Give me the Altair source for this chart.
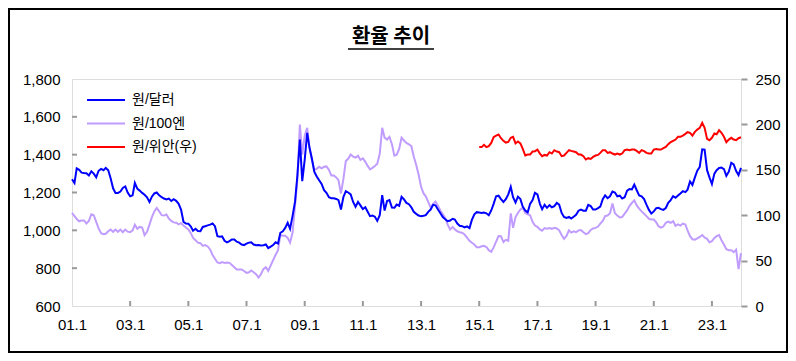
import altair as alt
import pandas as pd

title_text = "환율 추이"
series_names = ["원/달러", "원/100엔", "원/위안(우)"]
series_colors = ["#0000FF", "#C09CFF", "#FF0000"]
start_month = "2001-01-01"
cny_start_month = "2015-01-01"

# 원/달러 (monthly, 2001.1 - 2024.1)
usd = [
    1270, 1250, 1328, 1320, 1305, 1303, 1302, 1290, 1312, 1300, 1280, 1315,
    1325, 1318, 1330, 1318, 1275, 1222, 1198, 1198, 1205, 1224, 1232, 1200,
    1180, 1185, 1250, 1220, 1210, 1198, 1188, 1175, 1150, 1178, 1195, 1200,
    1185, 1175, 1168, 1163, 1168, 1155, 1165, 1156, 1140, 1110, 1045, 1036,
    1035, 1020, 998, 1008, 996, 995, 1018, 1022, 1026, 1030, 1036, 1022,
    969, 966, 968, 945, 936, 943, 952, 952, 940, 935, 925, 922,
    930, 935, 937, 925, 921, 922, 920, 921, 925, 906, 914, 922,
    937, 930, 987, 995, 1013, 1040, 1008, 1075, 1150, 1290, 1480, 1260,
    1374, 1515, 1440, 1380, 1310, 1285, 1265, 1245, 1212, 1198, 1175, 1170,
    1170, 1166, 1160, 1110, 1175, 1207, 1200, 1190, 1150, 1125, 1150, 1132,
    1112, 1122, 1100, 1075, 1078, 1072, 1050, 1080, 1186, 1105, 1155, 1160,
    1120, 1119, 1136, 1130, 1177, 1163, 1145, 1138, 1122, 1098, 1087, 1078,
    1074, 1077, 1080, 1098, 1110, 1135, 1132, 1110, 1090, 1070, 1058, 1048,
    1052, 1061, 1057, 1036, 1024, 1022, 1015, 1021, 1012, 1055, 1085, 1096,
    1094, 1092, 1094, 1090, 1080, 1105, 1140, 1180, 1183, 1165, 1150, 1165,
    1190, 1230, 1175, 1147, 1178, 1165, 1125, 1105, 1095, 1140, 1160, 1198,
    1190, 1140, 1112, 1135, 1119, 1133, 1122, 1128, 1145, 1136, 1092, 1071,
    1066, 1071, 1062, 1072, 1082, 1104, 1110, 1104, 1104, 1135, 1128, 1110,
    1110, 1117, 1125, 1165, 1185, 1170, 1180, 1205, 1200, 1180, 1183, 1168,
    1175, 1210, 1218, 1216, 1242, 1212, 1185, 1180, 1165, 1136, 1108, 1089,
    1100, 1117, 1119, 1112, 1108, 1118, 1145, 1160, 1181, 1172, 1184, 1195,
    1207, 1202, 1215, 1258, 1240, 1280, 1315, 1335, 1428, 1427, 1318, 1280,
    1245, 1300, 1318, 1330, 1332, 1324, 1288, 1310, 1357, 1348, 1313, 1292,
    1330,
]

# 원/100엔 (monthly, 2001.1 - 2024.1)
jpy = [
    1092, 1075, 1060, 1048, 1052, 1052, 1036, 1050, 1085, 1080, 1045, 1010,
    985, 980, 982, 995, 1004, 992, 1004, 992, 1004, 990, 1004, 993,
    990, 1000, 1030, 1008, 1018, 1015, 975, 992, 1030, 1070, 1100, 1118,
    1100, 1080, 1078, 1084, 1062, 1050, 1042, 1040, 1032, 1038, 1025, 1015,
    1005, 985, 960, 948, 935, 932, 918, 922, 915, 899, 870, 850,
    830, 826, 832, 828, 830, 828, 817, 805, 793, 793, 793, 785,
    775, 778, 788, 778, 768, 750, 768, 795, 805, 786, 815, 842,
    870, 895, 975, 972, 972, 960, 935, 987, 1128, 1269, 1559, 1400,
    1500, 1542, 1436, 1370, 1320, 1325, 1336, 1328, 1336, 1338, 1320, 1290,
    1290, 1280, 1265, 1195, 1269, 1366, 1378, 1401, 1390, 1385, 1394, 1372,
    1380, 1362, 1342, 1322, 1330, 1340, 1352, 1405, 1542, 1490, 1480, 1494,
    1455, 1395, 1400, 1430, 1490, 1475, 1462, 1455, 1445, 1390, 1345, 1295,
    1230, 1195, 1180, 1150, 1120, 1140, 1152, 1130, 1105, 1085, 1065, 1030,
    1004, 1018, 1005, 995, 990, 987, 978, 962, 945, 934, 925, 910,
    910, 916, 918, 912, 895, 886, 910, 940, 970, 969, 938, 950,
    945, 1090, 1013, 1070, 1092, 1110, 1119, 1092, 1085, 1080, 1045, 1025,
    1018, 1005, 998, 1012, 1009, 1012, 1008, 1013, 1010, 1000, 975, 955,
    970, 1000, 988, 995, 990, 1000, 1002, 990, 980, 985, 1002, 1010,
    1013, 1020, 1035, 1050, 1075, 1078, 1090, 1142, 1090, 1078, 1068, 1070,
    1088, 1105, 1128, 1145, 1159, 1132, 1115, 1100, 1088, 1075, 1061, 1057,
    1057, 1042, 1022, 1014, 1020, 1040, 1046, 1040, 1048, 1024, 1031, 1025,
    1036, 1031, 1000, 969, 953, 951, 958, 965, 975, 962, 955, 937,
    943, 960, 969, 975, 948, 925, 900, 895, 895, 885, 898, 795,
    880,
]

# 원/위안 (right axis, monthly, 2015.1 - 2024.1)
cny = [
    175.0, 175.0, 177.5, 175.0, 176.0, 179.6, 186.0, 187.7, 188.8, 184.8, 181.9, 180.0,
    180.7, 185.2, 186.3, 179.0, 181.1, 179.0, 173.0, 165.7, 166.8, 166.8, 170.1, 170.5,
    172.3, 167.9, 165.0, 166.4, 165.7, 169.4, 167.9, 171.6, 170.1, 169.4, 165.0, 165.7,
    168.6, 171.6, 170.8, 170.1, 169.4, 166.8, 166.8, 165.0, 161.3, 162.8, 162.0, 164.2,
    165.7, 166.4, 168.6, 171.6, 171.6, 168.6, 169.4, 167.9, 166.8, 167.9, 166.8, 167.9,
    171.6, 172.3, 171.6, 172.3, 172.3, 170.8, 168.6, 171.6, 170.5, 168.6, 167.9, 167.9,
    172.3, 173.0, 172.3, 172.3, 173.8, 175.2, 178.2, 180.4, 181.9, 183.3, 186.3, 186.3,
    187.7, 189.6, 191.4, 190.7, 187.7, 191.8, 194.3, 196.2, 201.7, 196.2, 184.0, 182.6,
    185.2, 190.0, 189.2, 193.6, 190.7, 186.3, 180.4, 183.3, 185.2, 183.3, 182.6, 184.8,
    185.9,
]

left_ticks = [600, 800, 1000, 1200, 1400, 1600, 1800]
right_ticks = [0, 50, 100, 150, 200, 250]
x_tick_years = [2001, 2003, 2005, 2007, 2009, 2011, 2013, 2015, 2017, 2019, 2021, 2023]
x_end_year = 2024

W, H = 669, 227
FONT = "Liberation Sans, Arial, Noto Sans CJK KR"
FRAME = "#999999"

months = pd.date_range(start_month, periods=len(usd), freq="MS")
cny_months = pd.date_range(cny_start_month, periods=len(cny), freq="MS")
usd_df = pd.DataFrame({"date": months, "value": usd, "series": series_names[0]})
jpy_df = pd.DataFrame({"date": months, "value": jpy, "series": series_names[1]})
cny_df = pd.DataFrame({"date": cny_months, "value": cny, "series": series_names[2]})

color_scale = alt.Scale(domain=series_names, range=series_colors)
color = alt.Color("series:N", scale=color_scale, legend=None)
x_scale = alt.Scale(domain=[alt.DateTime(year=x_tick_years[0], month=1, date=1),
                            alt.DateTime(year=x_end_year, month=1, date=1)])
left_scale = alt.Scale(domain=[left_ticks[0], left_ticks[-1]], nice=False, zero=False)
right_scale = alt.Scale(domain=[right_ticks[0], right_ticks[-1]], nice=False)

x_enc = alt.X(
    "date:T", scale=x_scale,
    axis=alt.Axis(values=[alt.DateTime(year=y, month=1, date=1) for y in x_tick_years],
                  format="%y.%-m", title=None, grid=False, ticks=False, domain=False,
                  labelPadding=11, labelFlush=False, labelFontSize=15, labelColor="#000",
                  labelFont=FONT, labelOverlap=False),
)
y_left_enc = alt.Y(
    "value:Q", scale=left_scale,
    axis=alt.Axis(values=left_ticks, format=",.0f", title=None, grid=False, ticks=False,
                  domain=False, labelPadding=12, labelFontSize=15, labelColor="#000",
                  labelFont=FONT),
)

jpy_line = alt.Chart(jpy_df).mark_line(strokeWidth=2).encode(x=x_enc, y=y_left_enc, color=color)
usd_line = alt.Chart(usd_df).mark_line(strokeWidth=2).encode(x=x_enc, y=y_left_enc, color=color)

# inward tick marks on the left axis
ytick_df = pd.DataFrame({"value": left_ticks[1:-1]})
left_ticks_layer = alt.Chart(ytick_df).mark_rule(color=FRAME, strokeWidth=2).encode(
    y=y_left_enc, x=alt.value(0), x2=alt.value(5),
)

# inward tick marks on the bottom axis
xtick_df = pd.DataFrame({"date": pd.to_datetime([f"{y}-01-01" for y in x_tick_years[1:]])})
x_ticks_layer = alt.Chart(xtick_df).mark_rule(color=FRAME, strokeWidth=2).encode(
    x=x_enc, y=alt.value(H), y2=alt.value(H - 5),
)

left_group = alt.layer(jpy_line, usd_line, left_ticks_layer, x_ticks_layer)

cny_line = alt.Chart(cny_df).mark_line(strokeWidth=2).encode(
    x=x_enc,
    y=alt.Y("value:Q", scale=right_scale,
            axis=alt.Axis(orient="right", values=right_ticks, format=".0f", title=None,
                          grid=False, ticks=True, tickSize=6, tickColor=FRAME, tickWidth=2,
                          domain=False, labelPadding=8, labelFontSize=15, labelColor="#000",
                          labelFont=FONT)),
    color=color,
)

legend_df = pd.DataFrame({"series": series_names})
legend_base = alt.Chart(legend_df).transform_window(
    rank="row_number()"
).transform_calculate(ly="21 + (datum.rank - 1) * 23.5")
legend_lines = legend_base.mark_rule(strokeWidth=2).encode(
    x=alt.value(15), x2=alt.value(53), y=alt.Y("ly:Q", scale=None), color=color,
)
legend_text = legend_base.mark_text(align="left", baseline="middle", fontSize=14,
                                    font=FONT, color="#000").encode(
    x=alt.value(60), y=alt.Y("ly:Q", scale=None), text="series:N",
)

title_df = pd.DataFrame({"t": [title_text]})
title_layer = alt.Chart(title_df).mark_text(fontSize=20, fontWeight="bold",
                                            font="Noto Sans CJK KR", color="#000",
                                            baseline="middle").encode(
    x=alt.value(319), y=alt.value(-42), text="t:N",
)
underline = alt.Chart(title_df).mark_rule(color="#000", strokeWidth=1.5).encode(
    x=alt.value(276), x2=alt.value(362), y=alt.value(-30),
)
border = alt.Chart(title_df).mark_rect(fill=None, stroke="#000", strokeWidth=2).encode(
    x=alt.value(-63), x2=alt.value(W + 47 - 1), y=alt.value(-70), y2=alt.value(H + 47 - 1),
)

chart = alt.layer(
    left_group, cny_line, legend_lines, legend_text, title_layer, underline, border
).resolve_scale(y="independent").properties(
    width=W, height=H,
    autosize=alt.AutoSizeParams(type="none"),
    padding={"left": 64, "top": 71, "right": 47, "bottom": 47},
).configure_view(stroke=FRAME, strokeWidth=2).configure(background="white")

chart.save("out.html", embed_options={"renderer": "svg", "actions": False})
